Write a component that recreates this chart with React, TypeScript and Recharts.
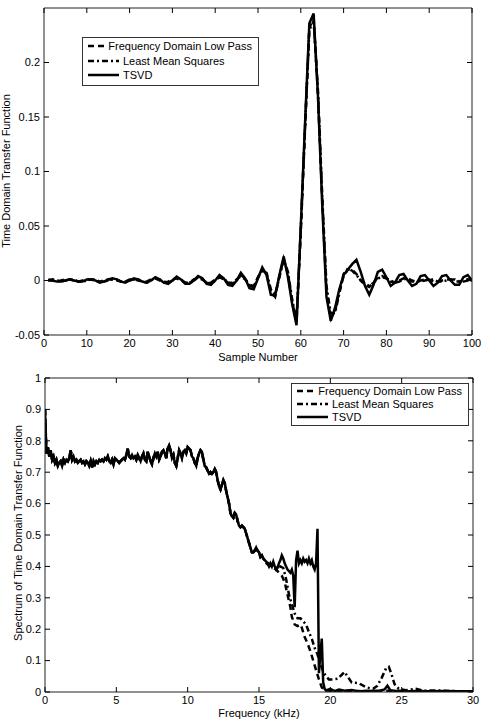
import { LineChart, Line, XAxis, YAxis, Legend } from "recharts";

const FONT = '"Liberation Sans", Arial, Helvetica, sans-serif';
const TICK_LEN = 5;
const GAP = 4;
const LINE_W = 2.5;

// ---- top panel: impulse responses (sample 1..100)
const samples = Array.from({ length: 100 }, (_, i) => i + 1);

const fdlpTime = [
  0.0, 0.0, -0.001, 0.0, 0.001, 0.001, 0.0, -0.001, 0.0, 0.001,
  0.001, -0.001, -0.001, 0.0, 0.001, 0.001, 0.0, -0.001, -0.001, 0.001,
  0.001, 0.0, -0.001, -0.001, 0.001, 0.002, 0.0, -0.002, -0.001, 0.001,
  0.002, 0.0, -0.002, -0.002, 0.001, 0.002, 0.001, -0.002, -0.002, 0.001,
  0.003, 0.001, -0.002, -0.002, 0.001, 0.004, 0.001, -0.004, -0.005, 0.003,
  0.01, 0.006, -0.01, -0.015, 0.004, 0.02, 0.006, -0.02, -0.038, 0.045,
  0.14, 0.232, 0.24, 0.172, 0.075, -0.01, -0.035, -0.028, -0.01, 0.004,
  0.01, 0.01, 0.006, 0.0, -0.004, -0.006, -0.002, 0.003, 0.004, 0.002,
  -0.001, -0.002, 0.0, 0.002, 0.001, -0.001, -0.001, 0.0, 0.001, 0.001,
  -0.001, -0.001, 0.0, 0.001, 0.001, -0.001, -0.001, 0.0, 0.001, 0.0,
];

const lmsTime = [
  0.0, 0.001, 0.0, -0.001, 0.0, 0.001, 0.001, -0.001, -0.001, 0.0,
  0.001, 0.001, -0.001, -0.001, 0.0, 0.001, 0.001, -0.001, -0.001, 0.0,
  0.001, 0.001, -0.001, -0.002, 0.0, 0.002, 0.001, -0.001, -0.002, 0.0,
  0.002, 0.001, -0.002, -0.002, 0.0, 0.003, 0.001, -0.002, -0.003, 0.0,
  0.003, 0.002, -0.002, -0.003, 0.0, 0.005, 0.002, -0.005, -0.006, 0.003,
  0.009, 0.007, -0.008, -0.013, 0.003, 0.019, 0.008, -0.018, -0.036, 0.048,
  0.142, 0.23, 0.238, 0.175, 0.078, -0.005, -0.03, -0.03, -0.012, 0.006,
  0.011, 0.009, 0.005, 0.0, -0.003, -0.005, -0.002, 0.002, 0.003, 0.002,
  0.0, -0.002, -0.001, 0.001, 0.002, 0.0, -0.001, -0.001, 0.0, 0.001,
  0.001, -0.001, -0.001, 0.0, 0.001, 0.001, -0.001, -0.001, 0.0, 0.0,
];

const tsvdTime = [
  0.001, 0.0, -0.001, -0.001, 0.0, 0.001, 0.0, -0.001, -0.001, 0.001,
  0.001, 0.0, -0.002, -0.001, 0.001, 0.002, 0.001, -0.001, -0.002, 0.0,
  0.002, 0.001, -0.001, -0.002, 0.0, 0.003, 0.001, -0.002, -0.003, 0.0,
  0.0035, 0.001, -0.003, -0.003, 0.0, 0.004, 0.002, -0.003, -0.004, 0.0,
  0.005, 0.002, -0.004, -0.005, 0.0, 0.007, 0.002, -0.007, -0.008, 0.002,
  0.012, 0.005, -0.013, -0.014, 0.005, 0.022, 0.003, -0.022, -0.041, 0.05,
  0.145, 0.236, 0.245, 0.17, 0.07, -0.015, -0.037, -0.025, -0.008, 0.005,
  0.01, 0.015, 0.019, 0.008, -0.005, -0.013, -0.004, 0.008, 0.01, 0.003,
  -0.005, -0.002, 0.005, 0.006, 0.0, -0.005, -0.003, 0.004, 0.005, 0.0,
  -0.005, -0.002, 0.004, 0.005, 0.0, -0.004, -0.004, 0.003, 0.005, 0.0,
];

const sampleTicks = [0, 10, 20, 30, 40, 50, 60, 70, 80, 90, 100];
const timeTicks = [-0.05, 0, 0.05, 0.1, 0.15, 0.2];

// ---- bottom panel: spectra (kHz)
// shared pass band, 0.0 .. 15.4 kHz in 0.1 kHz steps
const passband = [
  0.9, 0.76, 0.78, 0.75, 0.77, 0.74, 0.75, 0.73, 0.74, 0.72,
  0.73, 0.735, 0.72, 0.74, 0.73, 0.74, 0.735, 0.745, 0.77, 0.74,
  0.75, 0.735, 0.74, 0.73, 0.735, 0.74, 0.73, 0.735, 0.725, 0.735,
  0.73, 0.72, 0.735, 0.715, 0.735, 0.725, 0.735, 0.73, 0.74, 0.735,
  0.74, 0.735, 0.745, 0.74, 0.75, 0.735, 0.73, 0.74, 0.725, 0.745,
  0.74, 0.735, 0.73, 0.735, 0.74, 0.745, 0.74, 0.755, 0.775, 0.75,
  0.745, 0.755, 0.745, 0.75, 0.74, 0.755, 0.745, 0.735, 0.75, 0.76,
  0.74, 0.735, 0.765, 0.75, 0.735, 0.725, 0.745, 0.76, 0.75, 0.765,
  0.74, 0.75, 0.765, 0.77, 0.76, 0.745, 0.775, 0.785, 0.77, 0.745,
  0.755, 0.73, 0.72, 0.745, 0.77, 0.76, 0.745, 0.765, 0.77, 0.76,
  0.78, 0.775, 0.77, 0.75, 0.745, 0.73, 0.72, 0.745, 0.76, 0.77,
  0.765, 0.74, 0.72, 0.715, 0.705, 0.695, 0.7, 0.695, 0.7, 0.71,
  0.7, 0.675, 0.655, 0.645, 0.66, 0.675, 0.665, 0.64, 0.62, 0.6,
  0.57, 0.56, 0.555, 0.57, 0.565, 0.545, 0.53, 0.525, 0.53, 0.525,
  0.52, 0.505, 0.49, 0.475, 0.46, 0.445, 0.445, 0.45, 0.46, 0.45,
  0.445, 0.43, 0.435, 0.425, 0.42,
];

const fdlpTail: [number, number][] = [
  [15.5, 0.41], [15.8, 0.4], [16.0, 0.395], [16.2, 0.39], [16.4, 0.38],
  [16.6, 0.37], [16.8, 0.35], [17.0, 0.31], [17.2, 0.27], [17.3, 0.24],
  [17.5, 0.215], [17.7, 0.21], [17.9, 0.215], [18.0, 0.205], [18.2, 0.175],
  [18.4, 0.155], [18.6, 0.13], [18.8, 0.1], [19.0, 0.07], [19.2, 0.04],
  [19.4, 0.015], [19.6, 0.005], [20.0, 0.004], [21.0, 0.003], [22.0, 0.003],
  [23.0, 0.002], [24.0, 0.004], [25.0, 0.002], [26.0, 0.002], [28.0, 0.001],
  [30.0, 0.001],
];

const lmsTail: [number, number][] = [
  [15.5, 0.415], [15.8, 0.405], [16.0, 0.4], [16.3, 0.395], [16.5, 0.4],
  [16.7, 0.395], [16.9, 0.36], [17.1, 0.31], [17.3, 0.28], [17.5, 0.25],
  [17.7, 0.235], [17.9, 0.235], [18.1, 0.225], [18.3, 0.215], [18.5, 0.19],
  [18.7, 0.17], [18.9, 0.14], [19.1, 0.12], [19.3, 0.09], [19.5, 0.065],
  [19.7, 0.05], [19.9, 0.04], [20.2, 0.04], [20.5, 0.042], [20.8, 0.055],
  [21.0, 0.064], [21.2, 0.05], [21.5, 0.03], [22.0, 0.028], [22.5, 0.015],
  [23.0, 0.01], [23.3, 0.02], [23.6, 0.045], [23.9, 0.075], [24.1, 0.08],
  [24.3, 0.055], [24.5, 0.025], [24.8, 0.01], [25.3, 0.006], [26.0, 0.01],
  [26.5, 0.004], [27.5, 0.005], [28.5, 0.003], [30.0, 0.002],
];

const tsvdTail: [number, number][] = [
  [15.5, 0.415], [15.6, 0.41], [15.7, 0.4], [15.8, 0.41], [15.9, 0.4],
  [16.0, 0.415], [16.1, 0.4], [16.2, 0.39], [16.3, 0.395], [16.4, 0.41],
  [16.5, 0.42], [16.6, 0.435], [16.7, 0.425], [16.8, 0.41], [16.9, 0.4],
  [17.0, 0.39], [17.1, 0.385], [17.2, 0.38], [17.3, 0.39], [17.4, 0.37],
  [17.5, 0.27], [17.6, 0.42], [17.7, 0.45], [17.8, 0.41], [17.9, 0.42],
  [18.0, 0.41], [18.1, 0.425], [18.2, 0.415], [18.3, 0.42], [18.4, 0.41],
  [18.5, 0.425], [18.6, 0.41], [18.7, 0.42], [18.8, 0.4], [18.9, 0.39],
  [19.0, 0.41], [19.1, 0.52], [19.2, 0.06], [19.3, 0.12], [19.4, 0.17],
  [19.5, 0.03], [19.6, 0.01], [19.7, 0.005], [20.0, 0.01], [20.3, 0.003],
  [20.6, 0.008], [21.0, 0.004], [21.5, 0.006], [22.0, 0.002], [22.5, 0.004],
  [23.0, 0.003], [23.5, 0.005], [23.8, 0.008], [24.0, 0.02], [24.2, 0.006],
  [24.6, 0.003], [25.0, 0.004], [25.5, 0.002], [26.0, 0.003], [27.0, 0.002],
  [28.0, 0.003], [29.0, 0.002], [30.0, 0.002],
];

const freqTicks = [0, 5, 10, 15, 20, 25, 30];
const specTicks = [0, 0.1, 0.2, 0.3, 0.4, 0.5, 0.6, 0.7, 0.8, 0.9, 1];

const series = [
  { key: "fdlp", name: "Frequency Domain Low Pass", dash: "6 4" },
  { key: "lms", name: "Least Mean Squares", dash: "6 3 2 3" },
  { key: "tsvd", name: "TSVD", dash: undefined as string | undefined },
];

const timeData = samples.map((s, i) => ({
  s,
  fdlp: fdlpTime[i],
  lms: lmsTime[i],
  tsvd: tsvdTime[i],
}));

const passRows = passband.map((v, i) => ({ f: i / 10, v }));
const toRows = (tail: [number, number][]) =>
  passRows.concat(tail.map(([f, v]) => ({ f, v })));
const specData: Record<string, { f: number; v: number }[]> = {
  fdlp: toRows(fdlpTail),
  lms: toRows(lmsTail),
  tsvd: toRows(tsvdTail),
};

// inward MATLAB-style ticks; labels outside
const textStyle = { fontSize: 11, fill: "#000", fontFamily: FONT };

function BottomTick(props: any) {
  const { x, y, payload } = props;
  const axisY = y - GAP;
  return (
    <g>
      <line x1={x} x2={x} y1={axisY} y2={axisY - TICK_LEN} stroke="#000" />
      <text x={x} y={axisY + GAP} dy="0.71em" textAnchor="middle" {...textStyle}>
        {payload.value}
      </text>
    </g>
  );
}

function TopTick(props: any) {
  const { x, y } = props;
  const axisY = y + GAP;
  return <line x1={x} x2={x} y1={axisY} y2={axisY + TICK_LEN} stroke="#000" />;
}

function LeftTick(props: any) {
  const { x, y, payload } = props;
  const axisX = x + GAP;
  return (
    <g>
      <line x1={axisX} x2={axisX + TICK_LEN} y1={y} y2={y} stroke="#000" />
      <text x={axisX - GAP} y={y} dy="0.35em" textAnchor="end" {...textStyle}>
        {payload.value}
      </text>
    </g>
  );
}

function RightTick(props: any) {
  const { x, y } = props;
  const axisX = x - GAP;
  return <line x1={axisX} x2={axisX - TICK_LEN} y1={y} y2={y} stroke="#000" />;
}

function LegendBox({ rowH }: { rowH: number }) {
  return (
    <div
      style={{
        border: "1px solid #333",
        background: "#fff",
        padding: "1px 6px 2px 5px",
        fontFamily: FONT,
        fontSize: 11,
        color: "#000",
      }}
    >
      {series.map((s) => (
        <div key={s.key} style={{ display: "flex", alignItems: "center", height: rowH }}>
          <svg width={31} height={8} style={{ marginRight: 4 }}>
            <line x1={0} x2={31} y1={4} y2={4} stroke="#000" strokeWidth={LINE_W} strokeDasharray={s.dash} />
          </svg>
          <span style={{ whiteSpace: "nowrap" }}>{s.name}</span>
        </div>
      ))}
    </div>
  );
}

function AxisTitle({ x, y, text, vertical }: { x: number; y: number; text: string; vertical?: boolean }) {
  return (
    <div
      style={{
        position: "absolute",
        left: x,
        top: y,
        transform: `translate(-50%, -50%)${vertical ? " rotate(-90deg)" : ""}`,
        whiteSpace: "nowrap",
        fontFamily: FONT,
        fontSize: 11,
        lineHeight: 1,
        color: "#000",
      }}
    >
      {text}
    </div>
  );
}

export default function App() {
  const axisStroke = "#222";
  return (
    <div
      style={{
        position: "fixed",
        left: 0,
        top: 0,
        width: 484,
        height: 722,
        background: "#fff",
        overflow: "hidden",
      }}
    >
      <div style={{ position: "absolute", left: 0, top: 0 }}>
        <LineChart width={484} height={365} data={timeData} margin={{ top: 7, right: 11, bottom: 0, left: 0 }}>
          <XAxis
            dataKey="s"
            type="number"
            domain={[0, 100]}
            ticks={sampleTicks}
            interval={0}
            allowDataOverflow
            height={30}
            tickSize={0}
            tickMargin={GAP}
            tickLine={false}
            tick={BottomTick}
            stroke={axisStroke}
          />
          <XAxis
            xAxisId="top"
            orientation="top"
            dataKey="s"
            type="number"
            domain={[0, 100]}
            ticks={sampleTicks}
            interval={0}
            allowDataOverflow
            height={1}
            tickSize={0}
            tickMargin={GAP}
            tickLine={false}
            tick={TopTick}
            stroke={axisStroke}
          />
          <YAxis
            type="number"
            domain={[-0.05, 0.25]}
            ticks={timeTicks}
            interval={0}
            allowDataOverflow
            width={44}
            tickSize={0}
            tickMargin={GAP}
            tickLine={false}
            tick={LeftTick}
            stroke={axisStroke}
          />
          <YAxis
            yAxisId="right"
            orientation="right"
            type="number"
            domain={[-0.05, 0.25]}
            ticks={timeTicks}
            interval={0}
            allowDataOverflow
            width={1}
            tickSize={0}
            tickMargin={GAP}
            tickLine={false}
            tick={RightTick}
            stroke={axisStroke}
          />
          {series.map((s) => (
            <Line
              key={s.key}
              dataKey={s.key}
              name={s.name}
              type="linear"
              stroke="#000"
              strokeWidth={LINE_W}
              strokeDasharray={s.dash}
              dot={false}
              isAnimationActive={false}
            />
          ))}
          <Legend
            layout="vertical"
            align="center"
            verticalAlign="middle"
            wrapperStyle={{ top: 37, left: 82, width: 177 }}
            content={() => <LegendBox rowH={14.5} />}
          />
        </LineChart>
        <AxisTitle x={258} y={357} text="Sample Number" />
        <AxisTitle x={6} y={171} text="Time Domain Transfer Function" vertical />
      </div>

      <div style={{ position: "absolute", left: 0, top: 360 }}>
        <LineChart width={484} height={362} margin={{ top: 17, right: 10, bottom: 0, left: 0 }}>
          <XAxis
            dataKey="f"
            type="number"
            domain={[0, 30]}
            ticks={freqTicks}
            interval={0}
            allowDataOverflow
            height={30}
            tickSize={0}
            tickMargin={GAP}
            tickLine={false}
            tick={BottomTick}
            stroke={axisStroke}
          />
          <XAxis
            xAxisId="top"
            orientation="top"
            dataKey="f"
            type="number"
            domain={[0, 30]}
            ticks={freqTicks}
            interval={0}
            allowDataOverflow
            height={1}
            tickSize={0}
            tickMargin={GAP}
            tickLine={false}
            tick={TopTick}
            stroke={axisStroke}
          />
          <YAxis
            type="number"
            domain={[0, 1]}
            ticks={specTicks}
            interval={0}
            allowDataOverflow
            width={45}
            tickSize={0}
            tickMargin={GAP}
            tickLine={false}
            tick={LeftTick}
            stroke={axisStroke}
          />
          <YAxis
            yAxisId="right"
            orientation="right"
            type="number"
            domain={[0, 1]}
            ticks={specTicks}
            interval={0}
            allowDataOverflow
            width={1}
            tickSize={0}
            tickMargin={GAP}
            tickLine={false}
            tick={RightTick}
            stroke={axisStroke}
          />
          {series.map((s) => (
            <Line
              key={s.key}
              data={specData[s.key]}
              dataKey="v"
              name={s.name}
              type="linear"
              stroke="#000"
              strokeWidth={LINE_W}
              strokeDasharray={s.dash}
              dot={false}
              isAnimationActive={false}
            />
          ))}
          <Legend
            layout="vertical"
            align="center"
            verticalAlign="middle"
            wrapperStyle={{ top: 23, left: 291, width: 178 }}
            content={() => <LegendBox rowH={12.7} />}
          />
        </LineChart>
        <AxisTitle x={259} y={353} text="Frequency (kHz)" />
        <AxisTitle x={18} y={173} text="Spectrum of Time Domain Transfer Function" vertical />
      </div>
    </div>
  );
}
